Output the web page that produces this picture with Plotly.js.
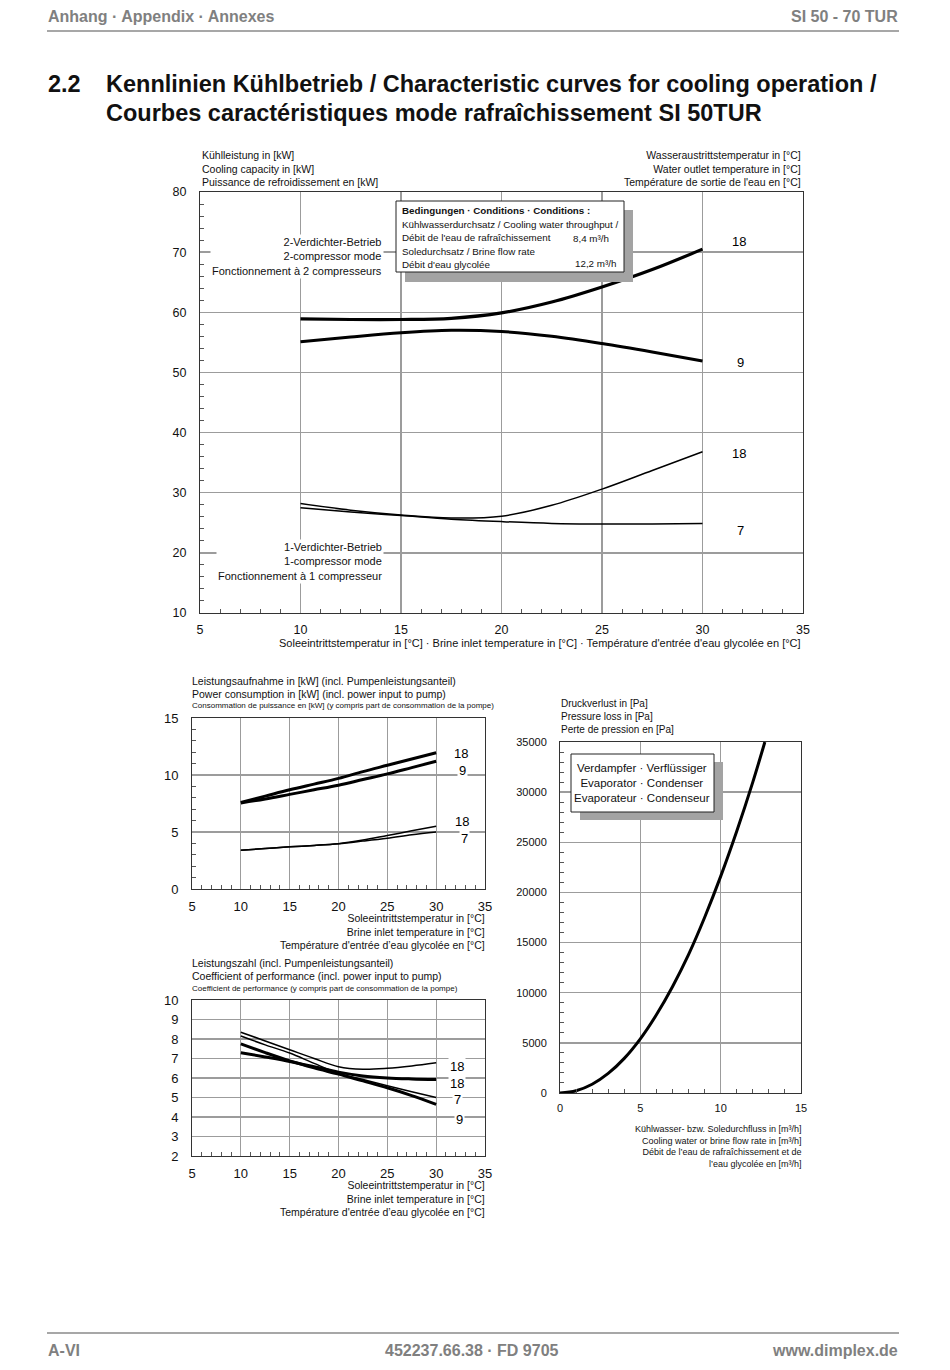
<!DOCTYPE html>
<html><head><meta charset="utf-8">
<script src="https://cdn.plot.ly/plotly-3.0.1.min.js"></script>
<style>html,body{margin:0;padding:0;background:#fff}#chart{width:950px;height:1370px}</style>
</head><body><div id="chart"></div>
<script>
// ---------- DATA ----------
const brineTemp = [10, 12.5, 15, 17.5, 20, 22.5, 25, 27.5, 30];

// Cooling capacity [kW]
const cap2comp18 = [58.9, 58.8, 58.8, 59.0, 59.9, 61.7, 64.2, 67.1, 70.5];
const cap2comp9  = [55.1, 55.9, 56.6, 57.0, 56.8, 56.0, 54.8, 53.4, 51.9];
const cap1comp18 = [28.2, 27.1, 26.3, 25.8, 26.1, 27.9, 30.6, 33.7, 36.8];
const cap1comp7  = [27.5, 26.8, 26.2, 25.6, 25.2, 24.9, 24.8, 24.8, 24.9];

// Power consumption [kW]
const pow2comp18 = [7.6, 8.15, 8.7, 9.2, 9.7, 10.3, 10.85, 11.4, 11.95];
const pow2comp9  = [7.55, 7.9, 8.3, 8.7, 9.1, 9.6, 10.1, 10.65, 11.2];
const pow1comp18 = [3.4, 3.55, 3.7, 3.82, 3.98, 4.3, 4.7, 5.1, 5.5];
const pow1comp7  = [3.4, 3.55, 3.7, 3.82, 3.97, 4.2, 4.45, 4.75, 5.0];

// Coefficient of performance
const cop1comp18 = [8.35, 7.9, 7.45, 7.0, 6.58, 6.45, 6.5, 6.62, 6.78];
const cop1comp7  = [8.15, 7.7, 7.28, 6.75, 6.25, 5.92, 5.6, 5.3, 5.0];
const cop2comp18 = [7.3, 7.08, 6.85, 6.58, 6.3, 6.1, 6.0, 5.95, 5.92];
const cop2comp9  = [7.75, 7.3, 6.88, 6.52, 6.2, 5.85, 5.5, 5.1, 4.65];

// Pressure loss [Pa] vs flow rate [m3/h]
const flowRate = [0, 1, 2, 3, 4, 5, 6, 7, 8, 9, 10, 11, 12, 12.75];
const pressureLoss = [0, 220, 870, 1950, 3450, 5400, 7800, 10600, 13800, 17500, 21600, 26100, 31000, 35000];

// Curve labels (water outlet temperature)
const capLabels = ['18', '9', '18', '7'];
const powLabels = ['18', '9', '18', '7'];
const copLabels = ['18', '18', '7', '9'];

// ---------- HELPERS ----------
const W = 950, H = 1370;
const FONT = 'Liberation Sans, Arial, sans-serif';
const px = v => v / W;
const py = v => 1 - v / H;

function line(x, y, xa, ya, width) {
  return {x, y, xaxis: xa, yaxis: ya, type: 'scatter', mode: 'lines',
    line: {color: '#000', width, shape: 'spline', smoothing: 1}, hoverinfo: 'skip', showlegend: false};
}

function axis(domain, range, dtick, minor, fontSize, standoff, extra) {
  return Object.assign({
    domain, range, dtick, tick0: 0,
    showgrid: true, gridcolor: '#9c9c9c', gridwidth: 1.3,
    zeroline: false, showline: true, mirror: true, linecolor: '#333', linewidth: 1,
    ticks: '', tickfont: {family: FONT, size: fontSize, color: '#111'},
    ticklabelstandoff: standoff, fixedrange: true,
    minor: minor ? {dtick: minor, ticks: 'inside', ticklen: 4, tickcolor: '#555', tickwidth: 1, showgrid: false} : undefined
  }, extra || {});
}

function txt(x, y, text, o) {
  o = o || {};
  return {xref: 'paper', yref: 'paper', x: px(x), y: py(y), text, showarrow: false,
    xanchor: o.xanchor || 'left', yanchor: o.yanchor || 'middle', align: o.align || 'left',
    font: {family: o.family || FONT, size: o.size || 10.5, color: o.color || '#111', weight: o.weight || 'normal'},
    bgcolor: o.bg, borderpad: o.bg ? 1 : 0};
}
function lab(xref, yref, x, y, text, size) {
  return {xref, yref, x, y, text, showarrow: false, xanchor: 'center', yanchor: 'middle',
    font: {family: FONT, size: size || 13, color: '#000'}, bgcolor: '#fff', borderpad: 1};
}
function rect(x0, y0, x1, y1, fill, lineColor) {
  return {type: 'rect', xref: 'paper', yref: 'paper', x0: px(x0), x1: px(x1), y0: py(y1), y1: py(y0),
    fillcolor: fill, line: {color: lineColor || fill, width: lineColor ? 1 : 0}, layer: 'above'};
}
function hline(x0, x1, y, color) {
  return {type: 'line', xref: 'paper', yref: 'paper', x0: px(x0), x1: px(x1), y0: py(y), y1: py(y),
    line: {color, width: 1.5}, layer: 'above'};
}

// ---------- TRACES ----------
const traces = [
  line(brineTemp, cap2comp18, 'x', 'y', 3.2),
  line(brineTemp, cap2comp9, 'x', 'y', 3.0),
  line(brineTemp, cap1comp18, 'x', 'y', 1.5),
  line(brineTemp, cap1comp7, 'x', 'y', 1.5),
  line(brineTemp, pow2comp18, 'x2', 'y2', 3.0),
  line(brineTemp, pow2comp9, 'x2', 'y2', 3.0),
  line(brineTemp, pow1comp18, 'x2', 'y2', 1.5),
  line(brineTemp, pow1comp7, 'x2', 'y2', 1.5),
  line(brineTemp, cop1comp18, 'x3', 'y3', 1.5),
  line(brineTemp, cop1comp7, 'x3', 'y3', 1.5),
  line(brineTemp, cop2comp18, 'x3', 'y3', 3.0),
  line(brineTemp, cop2comp9, 'x3', 'y3', 3.0),
  line(flowRate, pressureLoss, 'x4', 'y4', 3.0)
];

// ---------- LAYOUT ----------
const annotations = [
  // header / footer
  txt(47, 16, 'Anhang · Appendix · Annexes', {size: 16, color: '#808080', weight: 'bold'}),
  txt(899, 16, 'SI 50 - 70 TUR', {size: 16, color: '#808080', weight: 'bold', xanchor: 'right'}),
  txt(47, 84, '2.2', {size: 23.5, color: '#111', weight: 'bold'}),
  txt(105, 84, 'Kennlinien Kühlbetrieb / Characteristic curves for cooling operation /', {size: 23.5, color: '#111', weight: 'bold'}),
  txt(105, 113, 'Courbes caractéristiques mode rafraîchissement SI 50TUR', {size: 23.5, color: '#111', weight: 'bold'}),
  txt(47, 1350, 'A-VI', {size: 16, color: '#808080', weight: 'bold'}),
  txt(472, 1350, '452237.66.38 · FD 9705', {size: 16, color: '#808080', weight: 'bold', xanchor: 'center'}),
  txt(899, 1350, 'www.dimplex.de', {size: 16, color: '#808080', weight: 'bold', xanchor: 'right'}),

  // top chart
  txt(201, 168, 'Kühlleistung in [kW]<br>Cooling capacity in [kW]<br>Puissance de refroidissement en [kW]', {size: 10.5}),
  txt(802, 168, 'Wasseraustrittstemperatur in [°C]<br>Water outlet temperature in [°C]<br>Température de sortie de l\'eau en [°C]', {size: 10.5, xanchor: 'right', align: 'right'}),
  txt(802, 643, 'Soleeintrittstemperatur in [°C] · Brine inlet temperature in [°C] · Température d\'entrée d\'eau glycolée en [°C]', {size: 11, xanchor: 'right'}),
  txt(384, 256, '2-Verdichter-Betrieb<br>2-compressor mode<br>Fonctionnement à 2 compresseurs', {size: 11, xanchor: 'right', align: 'right', bg: '#fff'}),
  txt(384, 561, '1-Verdichter-Betrieb<br>1-compressor mode<br>Fonctionnement à 1 compresseur', {size: 11, xanchor: 'right', align: 'right', bg: '#fff'}),
  txt(401, 210, '<b>Bedingungen · Conditions · Conditions :</b>', {size: 9.8}),
  txt(401, 231, 'Kühlwasserdurchsatz / Cooling water throughput /<br>Débit de l\'eau de rafraîchissement', {size: 9.8}),
  txt(572, 239, '8,4 m³/h', {size: 9.8}),
  txt(401, 258, 'Soledurchsatz / Brine flow rate<br>Débit d\'eau glycolée', {size: 9.8}),
  txt(617, 264, '12,2 m³/h', {size: 9.8, xanchor: 'right'}),
  lab('x', 'y', 31.8, 71.7, capLabels[0]),
  lab('x', 'y', 31.9, 51.7, capLabels[1]),
  lab('x', 'y', 31.8, 36.6, capLabels[2]),
  lab('x', 'y', 31.9, 23.8, capLabels[3]),

  // power chart
  txt(191, 681, 'Leistungsaufnahme in [kW] (incl. Pumpenleistungsanteil)', {size: 10.5}),
  txt(191, 694, 'Power consumption in [kW] (incl. power input to pump)', {size: 10.5}),
  txt(191, 706, 'Consommation de puissance en [kW] (y compris part de consommation de la pompe)', {size: 8}),
  txt(486, 931, 'Soleeintrittstemperatur in [°C]<br>Brine inlet temperature in [°C]<br>Température d\'entrée d’eau glycolée en [°C]', {size: 10.5, xanchor: 'right', align: 'right'}),
  lab('x2', 'y2', 32.5, 11.9, powLabels[0]),
  lab('x2', 'y2', 32.7, 10.4, powLabels[1]),
  lab('x2', 'y2', 32.6, 5.96, powLabels[2]),
  lab('x2', 'y2', 32.9, 4.4, powLabels[3]),

  // COP chart
  txt(191, 963, 'Leistungszahl (incl. Pumpenleistungsanteil)', {size: 10.5}),
  txt(191, 976, 'Coefficient of performance (incl. power input to pump)', {size: 10.5}),
  txt(191, 988, 'Coefficient de performance (y compris part de consommation de la pompe)', {size: 8}),
  txt(486, 1198, 'Soleeintrittstemperatur in [°C]<br>Brine inlet temperature in [°C]<br>Température d\'entrée d’eau glycolée en [°C]', {size: 10.5, xanchor: 'right', align: 'right'}),
  lab('x3', 'y3', 32.1, 6.6, copLabels[0]),
  lab('x3', 'y3', 32.1, 5.7, copLabels[1]),
  lab('x3', 'y3', 32.2, 4.9, copLabels[2]),
  lab('x3', 'y3', 32.4, 3.85, copLabels[3]),

  // pressure chart
  txt(560, 716, 'Druckverlust in [Pa]<br>Pressure loss in [Pa]<br>Perte de pression en [Pa]', {size: 10}),
  txt(642, 783, 'Verdampfer · Verflüssiger<br>Evaporator · Condenser<br>Evaporateur · Condenseur', {size: 11.5, xanchor: 'center', align: 'center'}),
  txt(803, 1146, 'Kühlwasser- bzw. Soledurchfluss in [m³/h]<br>Cooling water or brine flow rate in [m³/h]<br>Débit de l’eau de rafraîchissement et de<br>l’eau glycolée en [m³/h]', {size: 9, xanchor: 'right', align: 'right'})
];

const shapes = [
  hline(47, 899, 31, '#8a8a8a'),
  hline(47, 899, 1333, '#8a8a8a'),
  rect(405, 210, 633, 282, '#a3a3a3'),
  rect(396, 201, 624, 272, '#fff', '#222'),
  rect(580, 762, 723, 820, '#a3a3a3'),
  rect(571, 754, 714, 812, '#fff', '#222')
];

const layout = {
  width: W, height: H, margin: {l: 0, r: 0, t: 0, b: 0},
  paper_bgcolor: '#fff', plot_bgcolor: '#fff', showlegend: false,
  font: {family: FONT, color: '#111'},
  xaxis:  axis([px(200), px(803)], [5, 35], 5, 1, 12.5, 5, {anchor: 'y'}),
  yaxis:  axis([py(613), py(192)], [10, 80], 10, 2, 12.5, 10, {anchor: 'x'}),
  xaxis2: axis([px(192), px(485)], [5, 35], 5, 1, 13, 5, {anchor: 'y2'}),
  yaxis2: axis([py(889), py(718)], [0, 15], 5, 1, 13, 10, {anchor: 'x2'}),
  xaxis3: axis([px(192), px(485)], [5, 35], 5, 1, 13, 5, {anchor: 'y3'}),
  yaxis3: axis([py(1156), py(1000)], [2, 10], 1, null, 13, 10, {anchor: 'x3'}),
  xaxis4: axis([px(560), px(801)], [0, 15], 5, 1, 11, 5, {anchor: 'y4'}),
  yaxis4: axis([py(1093), py(742)], [0, 35000], 5000, 1000, 11, 10, {anchor: 'x4', tickformat: 'd'}),
  annotations, shapes
};

Plotly.newPlot('chart', traces, layout, {staticPlot: true, displayModeBar: false});
</script>
</body></html>
